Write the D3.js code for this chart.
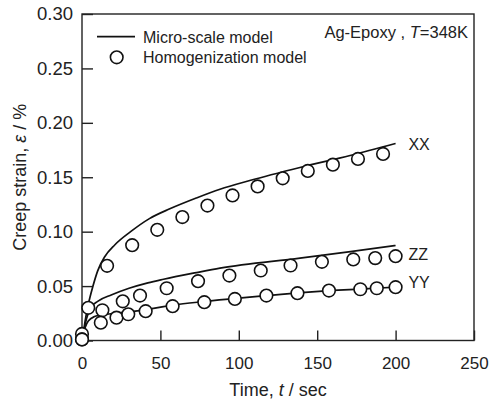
<!DOCTYPE html>
<html>
<head>
<meta charset="utf-8">
<script src="https://cdn.jsdelivr.net/npm/d3@7"></script>
<style>
  html, body { margin: 0; padding: 0; background: #fff; }
  svg { display: block; font-family: "Liberation Sans", Arial, sans-serif; }
</style>
</head>
<body>
<svg id="chart" width="490" height="400"></svg>
<script>
// Micro-scale model curves: [time (s), creep strain (%)]
const microXX = [[0,0],[1,0.008],[2,0.018],[4,0.033],[7,0.050],[10,0.064],[14.5,0.077],[21,0.088],[31,0.100],[43,0.112],[56,0.121],[73,0.131],[88,0.139],[107,0.147],[139,0.159],[171,0.170],[200,0.181]];
const microZZ = [[0,0],[2,0.015],[4,0.025],[6,0.031],[10,0.036],[19,0.042],[30,0.048],[42,0.053],[52,0.0563],[73,0.0624],[88,0.0665],[139,0.0757],[170,0.0815],[200,0.0873]];
const microYY = [[0,0],[2,0.012],[4,0.018],[8,0.022],[13,0.0235],[21,0.025],[30,0.0262],[43,0.029],[58,0.0325],[77,0.0357],[100,0.039],[120,0.0415],[140,0.044],[160,0.046],[180,0.0475],[200,0.049]];

// Homogenization model results
const homXX = [[0,0.006],[4,0.030],[16,0.0686],[32,0.0876],[48,0.1017],[64,0.1134],[80,0.124],[96,0.1333],[112,0.1416],[128,0.149],[144,0.1558],[160,0.1616],[176,0.1668],[192,0.1714]];
const homZZ = [[0,0.001],[13,0.0278],[26,0.036],[37,0.0413],[54,0.048],[74,0.0545],[94,0.0597],[114,0.0643],[133,0.0689],[153,0.0723],[173,0.0745],[187,0.0757],[200,0.0775]];
const homYY = [[0,0.001],[12,0.0164],[22,0.021],[29.5,0.0241],[40.6,0.0269],[57.8,0.0315],[78,0.0352],[97.5,0.0382],[117.6,0.0413],[137.4,0.0435],[157.5,0.0459],[177.5,0.0471],[188,0.048],[200,0.049]];

// Curve labels: [name, time at label, strain at label]
const curveLabels = [["XX", 205, 0.181], ["ZZ", 205, 0.0795], ["YY", 205, 0.0542]];

const xTicks = [0, 50, 100, 150, 200, 250];
const yTicks = [0, 0.05, 0.10, 0.15, 0.20, 0.25, 0.30];

const svg = d3.select("#chart");
const margin = { left: 82, top: 14, right: 16, bottom: 59.5 };
const W = 490 - margin.left - margin.right;
const H = 400 - margin.top - margin.bottom;

const x = d3.scaleLinear().domain([0, 250]).range([0, W]);
const y = d3.scaleLinear().domain([0, 0.30]).range([H, 0]);

const g = svg.append("g").attr("transform", `translate(${margin.left},${margin.top})`);

// frame
g.append("rect").attr("x", 0).attr("y", 0).attr("width", W).attr("height", H)
  .attr("fill", "none").attr("stroke", "#222").attr("stroke-width", 1.4);

// axes with inward ticks
const xAxis = g.append("g").attr("transform", `translate(0,${H})`)
  .call(d3.axisBottom(x).tickValues(xTicks).tickSize(-10).tickPadding(16).tickFormat(d3.format("d")));
const yAxis = g.append("g")
  .call(d3.axisLeft(y).tickValues(yTicks).tickSize(-11).tickPadding(9).tickFormat(d3.format(".2f")));
[xAxis, yAxis].forEach(a => {
  a.select(".domain").remove();
  a.selectAll(".tick line").attr("stroke", "#222").attr("stroke-width", 1.4);
  a.selectAll(".tick text").attr("fill", "#222")
    .style("font-family", "'Liberation Sans', Arial, sans-serif");
});
xAxis.selectAll(".tick text").style("font-size", "17px");
yAxis.selectAll(".tick text").style("font-size", "18.5px");

// model curves
const line = d3.line().x(d => x(d[0])).y(d => y(d[1])).curve(d3.curveMonotoneX);
[microXX, microZZ, microYY].forEach(s => {
  g.append("path").datum(s).attr("d", line)
    .attr("fill", "none").attr("stroke", "#111").attr("stroke-width", 1.7);
});

// homogenization points
[homXX, homZZ, homYY].forEach(s => {
  g.append("g").selectAll("circle").data(s).join("circle")
    .attr("cx", d => x(d[0])).attr("cy", d => y(d[1])).attr("r", 6.3)
    .attr("fill", "#fff").attr("stroke", "#111").attr("stroke-width", 1.6);
});

// curve labels
g.selectAll(".clabel").data(curveLabels).join("text")
  .attr("class", "clabel")
  .attr("x", d => x(d[1]) + 5).attr("y", d => y(d[2]) + 6)
  .style("font-size", "16px").attr("fill", "#222")
  .text(d => d[0]);

// legend
g.append("line").attr("x1", 15).attr("x2", 53).attr("y1", 22.7).attr("y2", 22.7)
  .attr("stroke", "#111").attr("stroke-width", 1.7);
g.append("text").attr("x", 61).attr("y", 28.5).style("font-size", "16px").attr("fill", "#222")
  .text("Micro-scale model");
g.append("circle").attr("cx", 34.7).attr("cy", 43.3).attr("r", 6.3)
  .attr("fill", "#fff").attr("stroke", "#111").attr("stroke-width", 1.6);
g.append("text").attr("x", 61).attr("y", 49).style("font-size", "16px").attr("fill", "#222")
  .text("Homogenization model");

// condition annotation
const ann = g.append("text").attr("x", W - 6).attr("y", 23.5).attr("text-anchor", "end")
  .style("font-size", "16.5px").attr("fill", "#222");
ann.append("tspan").text("Ag-Epoxy , ");
ann.append("tspan").style("font-style", "italic").text("T");
ann.append("tspan").text("=348K");

// axis titles
const xt = svg.append("text").attr("x", margin.left + W / 2).attr("y", 396)
  .attr("text-anchor", "middle").style("font-size", "18px").attr("fill", "#222");
xt.append("tspan").text("Time, ");
xt.append("tspan").style("font-style", "italic").text("t");
xt.append("tspan").text(" / sec");

const yt = svg.append("text")
  .attr("transform", `translate(26,${margin.top + H / 2}) rotate(-90)`)
  .attr("text-anchor", "middle").style("font-size", "18px").attr("fill", "#222");
yt.append("tspan").text("Creep strain, ");
yt.append("tspan").style("font-style", "italic").text("ε");
yt.append("tspan").text(" / %");
</script>
</body>
</html>
